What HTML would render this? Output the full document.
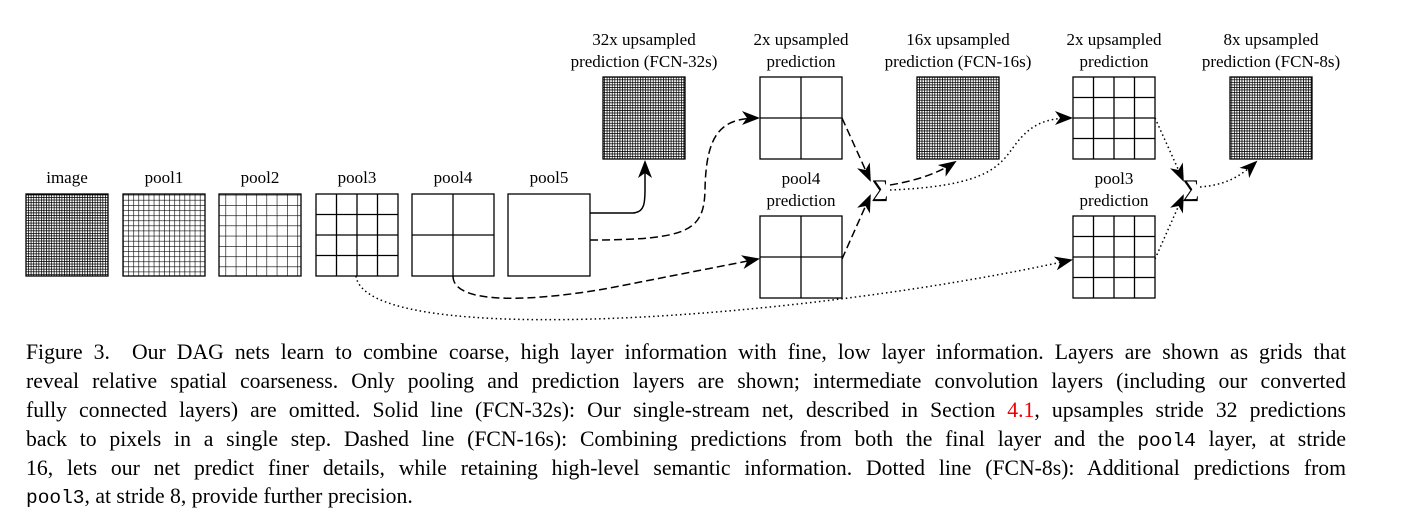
<!DOCTYPE html>
<html><head><meta charset="utf-8"><style>
body{margin:0;background:#fff;width:1418px;height:521px;overflow:hidden;position:relative}
svg{position:absolute;left:0;top:0}
.cap{position:absolute;left:26px;top:338px;width:1320px;font-family:"Liberation Serif",serif;font-size:21.7px;color:#000}
.cap div{height:28.9px;line-height:28.9px;text-align:justify;text-align-last:justify;white-space:nowrap}
.cap div.last{text-align-last:left}
.cap tt{font-family:"Liberation Mono",monospace;font-size:19.5px;line-height:1}
.red{color:#e00}
</style></head><body>
<svg width="1418" height="521" viewBox="0 0 1418 521" font-family="Liberation Serif, serif" font-size="17">
<defs>
<pattern id="g32" width="2.56" height="2.56" patternUnits="userSpaceOnUse"><rect width="2.56" height="2.56" fill="#fff"/><path d="M0 0H2.56M0 0V2.56" stroke="#000" stroke-width="1.5"/></pattern>
<pattern id="g16" width="5.125" height="5.125" patternUnits="userSpaceOnUse"><path d="M0 0H5.125M0 0V5.125" stroke="#000" stroke-width="1.2"/></pattern>
<pattern id="g8" width="10.25" height="10.25" patternUnits="userSpaceOnUse"><path d="M0 0H10.25M0 0V10.25" stroke="#000" stroke-width="1.2"/></pattern>
<marker id="ah" markerWidth="18" markerHeight="14" refX="16" refY="7" orient="auto" markerUnits="userSpaceOnUse"><path d="M0,0 L18,7 L0,14 L5,7 Z" fill="#000"/></marker>
</defs>
<g stroke="#000" stroke-width="1.3" fill="none">
<rect x="26" y="194" width="82" height="82" fill="url(#g32)"/>
<rect x="123" y="194" width="82" height="82" fill="url(#g16)"/>
<rect x="219" y="194" width="82" height="82" fill="url(#g8)"/>
<rect x="316" y="194" width="82" height="82"/>
<path d="M336.5 194V276M357 194V276M377.5 194V276M316 214.5H398M316 235H398M316 255.5H398"/>
<rect x="412" y="194" width="82" height="82"/>
<path d="M453 194V276M412 235H494"/>
<rect x="508" y="194" width="82" height="82"/>
<rect x="603" y="77" width="82" height="82" fill="url(#g32)"/>
<rect x="760" y="77" width="82" height="82"/><path d="M801 77V159M760 118H842"/>
<rect x="760" y="216" width="82" height="82"/><path d="M801 216V298M760 257H842"/>
<rect x="917" y="77" width="82" height="82" fill="url(#g32)"/>
<rect x="1073" y="77" width="82" height="82"/>
<path d="M1093.5 77V159M1114 77V159M1134.5 77V159M1073 97.5H1155M1073 118H1155M1073 138.5H1155"/>
<rect x="1073" y="216" width="82" height="82"/>
<path d="M1093.5 216V298M1114 216V298M1134.5 216V298M1073 236.5H1155M1073 257H1155M1073 277.5H1155"/>
<rect x="1230" y="77" width="82" height="82" fill="url(#g32)"/>
</g>
<g stroke="#000" stroke-width="1.5" fill="none">
<path d="M590,213 L632,213 C646,213 645,200 645,185 L645,162" marker-end="url(#ah)"/>
<path d="M590,240 C690,240 704,230 705,190 C706,135 720,118 758,118" stroke-dasharray="8,4" marker-end="url(#ah)"/>
<path d="M453,276 C453,310 560,298 620,286 L758,259" stroke-dasharray="8,4" marker-end="url(#ah)"/>
<path d="M356,276 C366,350 800,320 1071,260" stroke-dasharray="1.5,3" marker-end="url(#ah)"/>
<path d="M842,118 L870,180" stroke-dasharray="8,4" marker-end="url(#ah)"/>
<path d="M842,259 L870,196" stroke-dasharray="8,4" marker-end="url(#ah)"/>
<path d="M890,185 C920,180 940,172 955,162" stroke-dasharray="8,4" marker-end="url(#ah)"/>
<path d="M890,190 C990,186 1000,165 1015,145 C1030,125 1045,118 1071,118" stroke-dasharray="1.5,3" marker-end="url(#ah)"/>
<path d="M1155,118 L1183,180" stroke-dasharray="1.5,3" marker-end="url(#ah)"/>
<path d="M1155,259 L1183,196" stroke-dasharray="1.5,3" marker-end="url(#ah)"/>
<path d="M1200,187 C1225,185 1240,177 1256,162" stroke-dasharray="1.5,3" marker-end="url(#ah)"/>
</g>
<g text-anchor="middle" fill="#000">
<text x="67" y="183">image</text><text x="164" y="183">pool1</text><text x="260" y="183">pool2</text>
<text x="357" y="183">pool3</text><text x="453" y="183">pool4</text><text x="549" y="183">pool5</text>
<text x="644" y="45">32x upsampled</text><text x="644" y="67">prediction (FCN-32s)</text>
<text x="801" y="45">2x upsampled</text><text x="801" y="67">prediction</text>
<text x="958" y="45">16x upsampled</text><text x="958" y="67">prediction (FCN-16s)</text>
<text x="1114" y="45">2x upsampled</text><text x="1114" y="67">prediction</text>
<text x="1271" y="45">8x upsampled</text><text x="1271" y="67">prediction (FCN-8s)</text>
<text x="801" y="184">pool4</text><text x="801" y="206">prediction</text>
<text x="1114" y="184">pool3</text><text x="1114" y="206">prediction</text>
<text x="880" y="196" font-size="24">∑</text><text x="1191" y="196" font-size="24">∑</text>
</g>
</svg>
<div class="cap">
<div>Figure 3.&nbsp; Our DAG nets learn to combine coarse, high layer information with fine, low layer information. Layers are shown as grids that</div>
<div>reveal relative spatial coarseness. Only pooling and prediction layers are shown; intermediate convolution layers (including our converted</div>
<div>fully connected layers) are omitted. Solid line (FCN-32s): Our single-stream net, described in Section <span class="red">4.1</span>, upsamples stride 32 predictions</div>
<div>back to pixels in a single step. Dashed line (FCN-16s): Combining predictions from both the final layer and the <tt>pool4</tt> layer, at stride</div>
<div>16, lets our net predict finer details, while retaining high-level semantic information. Dotted line (FCN-8s): Additional predictions from</div>
<div class="last"><tt>pool3</tt>, at stride 8, provide further precision.</div>
</div>
</body></html>
